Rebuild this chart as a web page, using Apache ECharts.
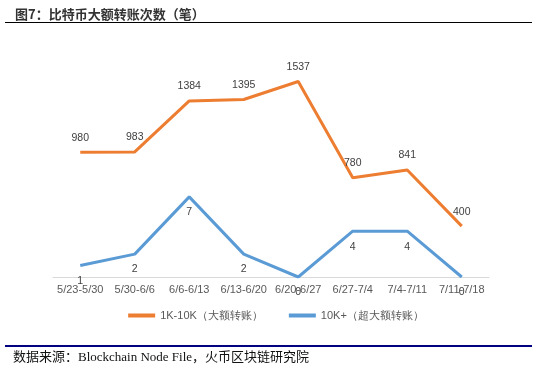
<!DOCTYPE html>
<html>
<head>
<meta charset="utf-8">
<script src="https://cdn.jsdelivr.net/npm/echarts@6/dist/echarts.min.js"></script>
<style>html,body{margin:0;padding:0;background:#fff}#c{width:552px;height:369px}</style>
</head>
<body>
<div id="c"></div>
<script>
var categories = ['5/23-5/30','5/30-6/6','6/6-6/13','6/13-6/20','6/20-6/27','6/27-7/4','7/4-7/11','7/11-7/18'];
var bigTransfers = [980, 983, 1384, 1395, 1537, 780, 841, 400];
var hugeTransfers = [1, 2, 7, 2, 0, 4, 4, 0];
var seriesNames = ['1K-10K（大额转账）', '10K+（超大额转账）'];

var chart = echarts.init(document.getElementById('c'), null, {renderer: 'canvas'});
var cjk = '"Noto Sans CJK SC", "Noto Sans", sans-serif';
var latin = '"Liberation Sans", Arial, sans-serif';
chart.setOption({
  animation: false,
  backgroundColor: '#fff',
  title: [
    {text: '图7：比特币大额转账次数（笔）', left: 10, top: 3,
     textStyle: {fontSize: 13, fontWeight: 'bold', color: '#333', fontFamily: cjk}},
    {text: '数据来源：Blockchain Node File，火币区块链研究院', left: 8, top: 346,
     textStyle: {fontSize: 13, fontWeight: 'normal', color: '#111', fontFamily: '"Liberation Serif", "Noto Sans CJK SC", serif'}}
  ],
  graphic: [
    {type: 'line', shape: {x1: 5, y1: 22.5, x2: 532, y2: 22.5}, style: {stroke: '#000', lineWidth: 1.2}},
    {type: 'line', shape: {x1: 5, y1: 346, x2: 532, y2: 346}, style: {stroke: '#000080', lineWidth: 2.2}}
  ],
  legend: {
    data: seriesNames, left: 'center', top: 305, itemGap: 26,
    icon: 'rect', itemWidth: 27, itemHeight: 4,
    textStyle: {fontSize: 11, color: '#595959', fontFamily: latin}
  },
  grid: {left: 53, right: 63, top: 48, bottom: 92},
  xAxis: {
    type: 'category', data: categories, boundaryGap: true,
    axisLine: {lineStyle: {color: '#d9d9d9'}},
    axisTick: {show: false},
    axisLabel: {interval: 0, fontSize: 11, color: '#595959', margin: 7, fontFamily: latin}
  },
  yAxis: [
    {type: 'value', min: 0, max: 1800, show: false, splitLine: {show: false}},
    {type: 'value', min: 0, max: 20, show: false, splitLine: {show: false}}
  ],
  series: [
    {name: seriesNames[0], type: 'line', data: bigTransfers, yAxisIndex: 0,
     symbol: 'circle', symbolSize: 0, showSymbol: true, color: '#ED7D31',
     lineStyle: {width: 3, color: '#ED7D31'},
     label: {show: true, position: 'top', distance: 9, fontSize: 10.5, color: '#404040', fontFamily: latin}},
    {name: seriesNames[1], type: 'line', data: hugeTransfers, yAxisIndex: 1,
     symbol: 'circle', symbolSize: 0, showSymbol: true, color: '#5B9BD5',
     lineStyle: {width: 3, color: '#5B9BD5'},
     label: {show: true, position: 'bottom', distance: 10, fontSize: 10.5, color: '#404040', fontFamily: latin}}
  ]
});
</script>
</body>
</html>
